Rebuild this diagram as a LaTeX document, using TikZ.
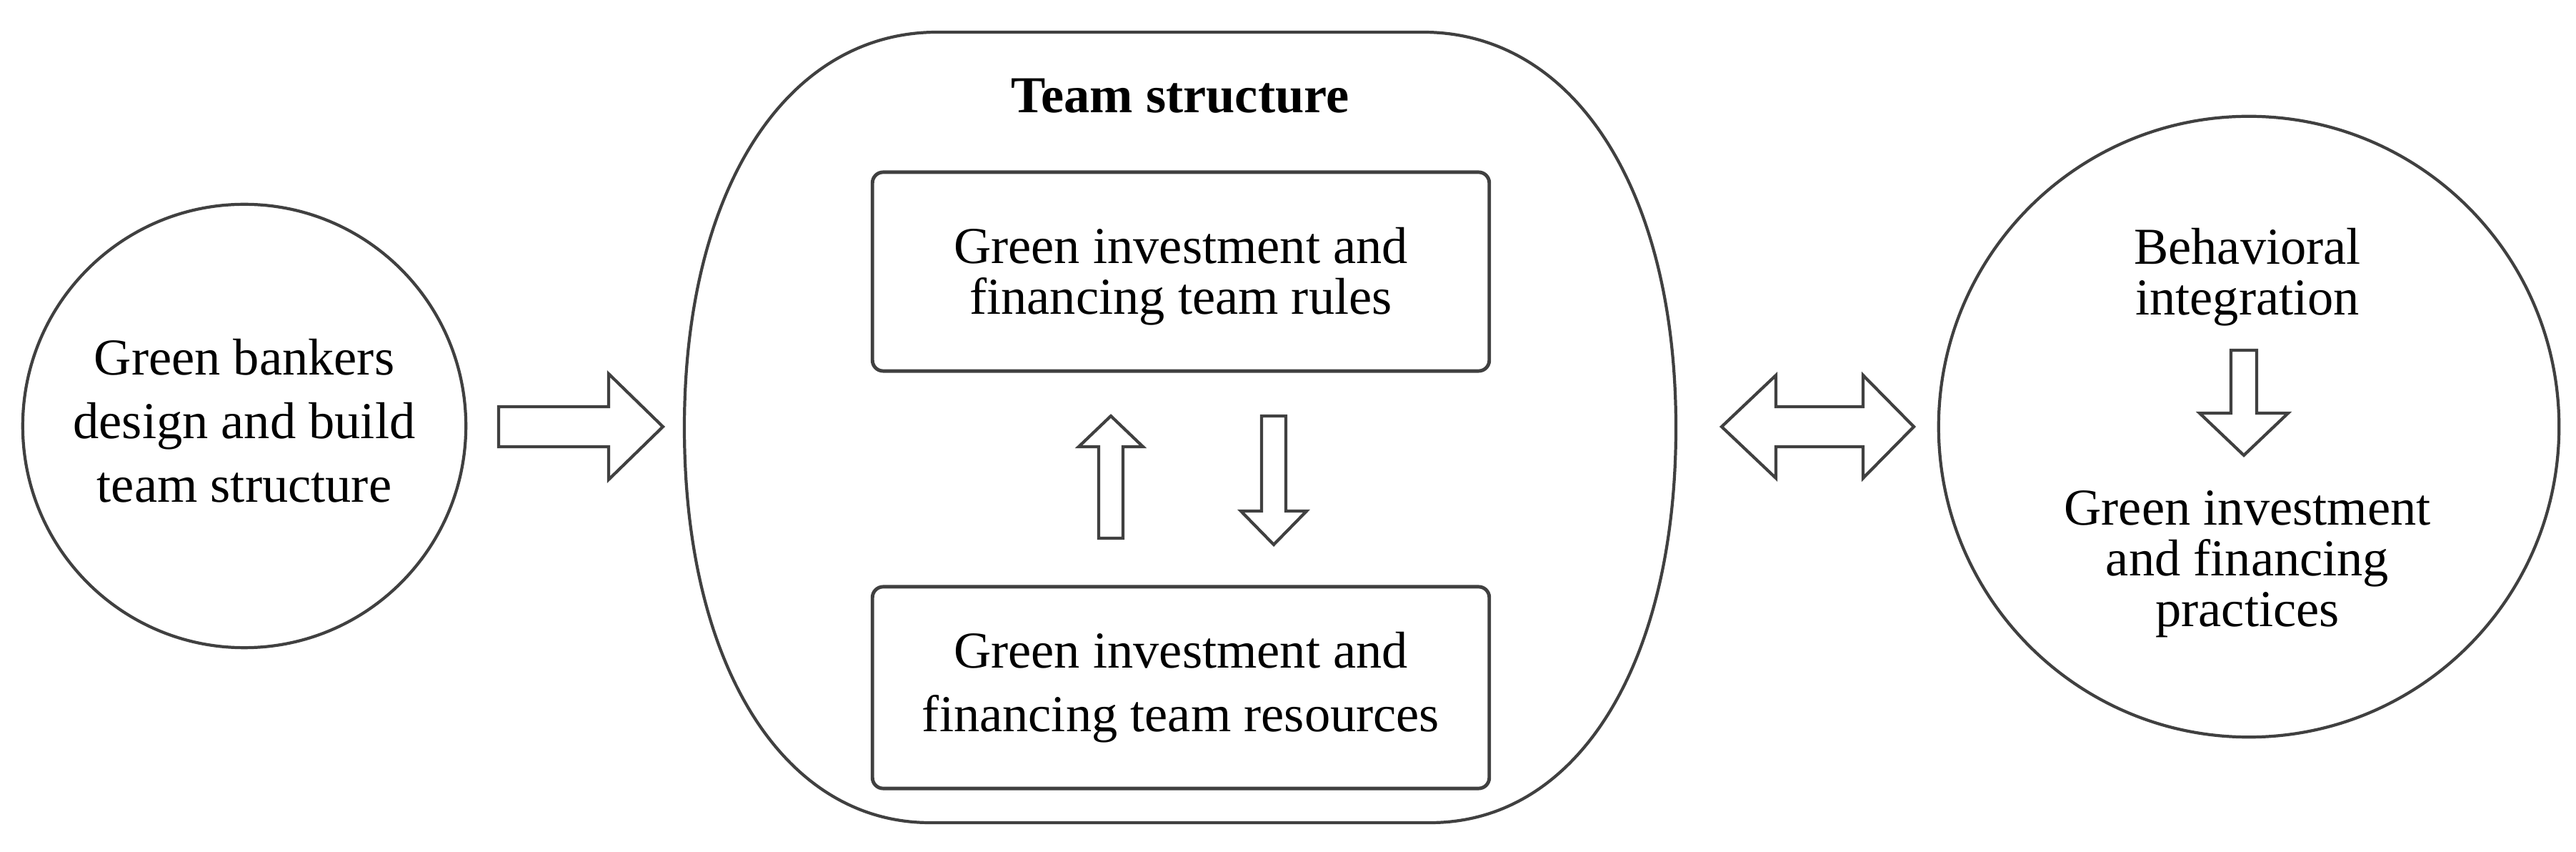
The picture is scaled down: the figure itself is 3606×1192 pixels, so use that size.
\documentclass[tikz,border=0pt]{standalone}
\usepackage{fontspec}
\setmainfont{Liberation Serif}
\begin{document}
\begin{tikzpicture}[x=0.01cm,y=-0.01cm,
  outline/.style={draw=black!75, line width=1.2pt, line join=miter},
  boxline/.style={draw=black!75, line width=1.4pt, rounded corners=0.15cm},
  txt/.style={font=\fontsize{20.6pt}{20.2pt}\selectfont, align=center, inner sep=0pt},
  txtwide/.style={font=\fontsize{20.6pt}{25.3pt}\selectfont, align=center, inner sep=0pt},
  blockarrow/.style={draw=black!75, line width=1.2pt, line join=miter, fill=white}]
\useasboundingbox (0,0) rectangle (3606,1192);

% left circle
\node[outline, circle, minimum size=6.2cm] (lc) at (342,596) {};
\node[txtwide] (lct) at (342,589) {Green bankers\\design and build\\team structure};

% middle rounded shape
\coordinate (mid) at (1652,598);
\draw[outline] (1312,45) -- (1992,45)
  .. controls (2204,45) and (2346,266) .. (2346,598)
  .. controls (2346,930) and (2208,1151) .. (2002,1151)
  -- (1302,1151)
  .. controls (1096,1151) and (958,930) .. (958,598)
  .. controls (958,266) and (1100,45) .. (1312,45) -- cycle;
\node[txt, font=\fontsize{20.6pt}{20.2pt}\selectfont\bfseries] (title) at (1652,134) {Team structure};

\node[boxline, minimum width=8.63cm, minimum height=2.78cm] (rules) at (1653,380) {};
\node[txt] (rulest) at (1653,387) {Green investment and\\financing team rules};
\node[boxline, minimum width=8.63cm, minimum height=2.82cm, txtwide] (res) at (1653,962)
  {Green investment and\\financing team resources};

% up and down arrows between boxes
\draw[blockarrow] (1538,753) -- (1538,625) -- (1510,625) -- (1555,582) -- (1600,625)
  -- (1572,625) -- (1572,753) -- cycle;
\draw[blockarrow] (1766,582) -- (1800,582) -- (1800,715) -- (1829,715) -- (1783,762)
  -- (1737,715) -- (1766,715) -- cycle;

% right arrow
\draw[blockarrow] (698,569) -- (852,569) -- (852,523) -- (928,597) -- (852,671)
  -- (852,625) -- (698,625) -- cycle;

% double arrow
\draw[blockarrow] (2410,597) -- (2486,525) -- (2486,569) -- (2608,569) -- (2608,525)
  -- (2679,597) -- (2608,669) -- (2608,625) -- (2486,625) -- (2486,669) -- cycle;

% right circle
\node[outline, circle, minimum size=8.68cm] (rc) at (3148,597) {};
\node[txt] (beh) at (3146,388) {Behavioral\\integration};
\node[txt] (prac) at (3146,789) {Green investment\\and financing\\practices};
\draw[blockarrow] (3123,490) -- (3159,490) -- (3159,578) -- (3203,578) -- (3141,637)
  -- (3079,578) -- (3123,578) -- cycle;
\end{tikzpicture}
\end{document}
